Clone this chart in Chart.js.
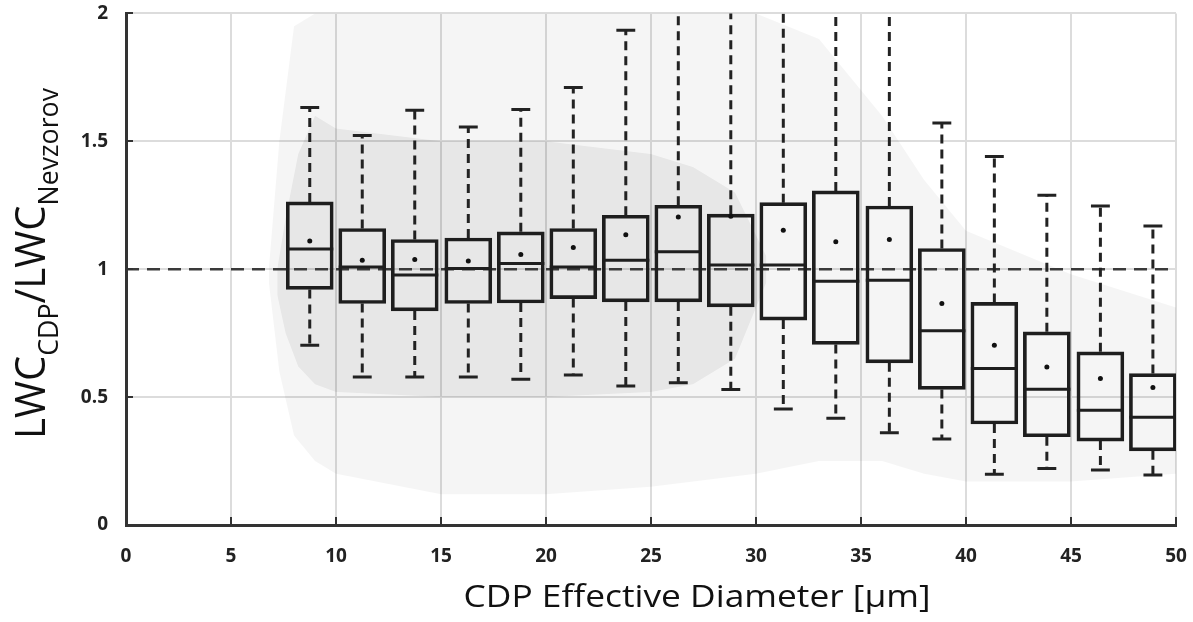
<!DOCTYPE html>
<html>
<head>
<meta charset="utf-8">
<script src="https://cdn.jsdelivr.net/npm/chart.js@4/dist/chart.umd.min.js"></script>
<style>
body { margin: 0; background: #fff; }
#wrap { width: 1193px; height: 622px; }
</style>
</head>
<body>
<div id="wrap"><canvas id="chart" width="1193" height="622"></canvas></div>
<script>

// box plot statistics per diameter bin
var centers = [8.75, 11.25, 13.75, 16.3, 18.8, 21.3, 23.8, 26.3, 28.8, 31.3, 33.8, 36.35, 38.85, 41.35, 43.85, 46.4, 48.9];
var q3 = [1.263, 1.159, 1.116, 1.122, 1.146, 1.159, 1.211, 1.25, 1.215, 1.26, 1.306, 1.247, 1.081, 0.870, 0.755, 0.677, 0.592];
var medians = [1.079, 1.009, 0.977, 1.003, 1.022, 1.009, 1.035, 1.068, 1.016, 1.016, 0.953, 0.957, 0.759, 0.612, 0.531, 0.449, 0.421];
var q1 = [0.921, 0.866, 0.837, 0.866, 0.868, 0.885, 0.872, 0.872, 0.853, 0.801, 0.706, 0.634, 0.530, 0.395, 0.345, 0.328, 0.290];
var means = [1.11, 1.035, 1.038, 1.032, 1.057, 1.085, 1.135, 1.204, 1.207, 1.152, 1.107, 1.116, 0.866, 0.703, 0.618, 0.573, 0.538];
var whiskerHigh = [1.632, 1.523, 1.621, 1.556, 1.624, 1.710, 1.934, 2.3, 2.3, 2.3, 2.3, 2.3, 1.572, 1.441, 1.289, 1.247, 1.169];
var whiskerLow = [0.703, 0.579, 0.579, 0.579, 0.570, 0.586, 0.543, 0.556, 0.530, 0.453, 0.417, 0.361, 0.336, 0.198, 0.221, 0.215, 0.195];

// outline of the grey point cloud behind the boxes
var cloudX = [6.8, 7.3, 8, 9, 10, 15, 20, 25, 30, 33, 36, 38, 40, 45, 50];
var cloudHigh = [1.0, 1.5, 1.95, 2.0, 2.0, 2.0, 2.0, 2.0, 2.0, 1.9, 1.6, 1.35, 1.15, 0.98, 0.85];
var cloudLow = [0.95, 0.6, 0.35, 0.25, 0.2, 0.12, 0.12, 0.15, 0.2, 0.25, 0.25, 0.2, 0.17, 0.17, 0.2];
var coreX = [7.2, 7.6, 8.2, 9, 10, 15, 20, 25, 27, 29, 30.5];
var coreHigh = [1.0, 1.2, 1.45, 1.6, 1.55, 1.5, 1.5, 1.45, 1.4, 1.3, 1.05];
var coreLow = [0.9, 0.75, 0.62, 0.55, 0.52, 0.5, 0.5, 0.52, 0.55, 0.65, 0.95];

var refLine = 1;
var xTickValues = [0, 5, 10, 15, 20, 25, 30, 35, 40, 45, 50];
var yTickValues = [0, 0.5, 1, 1.5, 2];
var yTickLabels = ['0', '0.5', '1', '1.5', '2'];
var xTitle = 'CDP Effective Diameter [μm]';
var yTitleParts = [['LWC', false], ['CDP', true], ['/LWC', false], ['Nevzorov', true]];

var boxHalf = 1.12;
var capHalf = 0.45;

function pts(xs, ys) {
	var out = [];
	for (var i = 0; i < xs.length; i++) out.push({x: xs[i], y: ys[i]});
	return out;
}

var boxes = [], whiskers = [], caps = [], medLines = [], meanPts = [];
for (var i = 0; i < centers.length; i++) {
	var c = centers[i];
	boxes.push({x: c, y: [q1[i], q3[i]]});
	whiskers.push({x: c, y: q3[i]}, {x: c, y: whiskerHigh[i]}, {x: c, y: null});
	whiskers.push({x: c, y: q1[i]}, {x: c, y: whiskerLow[i]}, {x: c, y: null});
	caps.push({x: c - capHalf, y: whiskerHigh[i]}, {x: c + capHalf, y: whiskerHigh[i]}, {x: c, y: null});
	caps.push({x: c - capHalf, y: whiskerLow[i]}, {x: c + capHalf, y: whiskerLow[i]}, {x: c, y: null});
	medLines.push({x: c - boxHalf, y: medians[i]}, {x: c + boxHalf, y: medians[i]}, {x: c, y: null});
	meanPts.push({x: c, y: means[i]});
}

var lineBase = {type: 'line', pointRadius: 0, tension: 0, spanGaps: false, borderCapStyle: 'butt'};

var innerTicks = {
	id: 'innerTicks',
	afterDatasetsDraw: function(chart) {
		var ctx = chart.ctx, xs = chart.scales.x, ys = chart.scales.y, a = chart.chartArea;
		ctx.save();
		ctx.strokeStyle = '#333';
		ctx.lineWidth = 2;
		ctx.beginPath();
		xTickValues.forEach(function(v) {
			var p = Math.round(xs.getPixelForValue(v));
			ctx.moveTo(p, a.bottom);
			ctx.lineTo(p, a.bottom - 8);
		});
		yTickValues.forEach(function(v) {
			var p = Math.round(ys.getPixelForValue(v));
			ctx.moveTo(a.left, p);
			ctx.lineTo(a.left + 7, p);
		});
		ctx.stroke();
		ctx.restore();
	}
};

// axis titles: the y one needs subscripts, the x one sits right of centre
var titles = {
	id: 'titles',
	afterDraw: function(chart) {
		var ctx = chart.ctx;
		var big = '42px "Open Sans"', small = '28px "Open Sans"';
		ctx.save();
		var total = 0;
		yTitleParts.forEach(function(p) {
			ctx.font = p[1] ? small : big;
			total += ctx.measureText(p[0]).width;
		});
		var k = 351 / total;
		ctx.translate(45, 439);
		ctx.rotate(-Math.PI / 2);
		ctx.scale(k, 1);
		ctx.fillStyle = '#111';
		ctx.textBaseline = 'alphabetic';
		var x = 0;
		yTitleParts.forEach(function(p) {
			ctx.font = p[1] ? small : big;
			ctx.fillText(p[0], x, p[1] ? 13 : 0);
			x += ctx.measureText(p[0]).width;
		});
		ctx.restore();

		ctx.save();
		ctx.font = '31px "Open Sans"';
		var w = ctx.measureText(xTitle).width;
		ctx.translate(697, 607);
		ctx.scale(467 / w, 1);
		ctx.fillStyle = '#111';
		ctx.textAlign = 'center';
		ctx.textBaseline = 'alphabetic';
		ctx.fillText(xTitle, 0, 0);
		ctx.restore();
	}
};

var ctx = document.getElementById('chart');
var chart = new Chart(ctx, {
	type: 'bar',
	data: {
		datasets: [
			Object.assign({}, lineBase, {data: pts(cloudX, cloudHigh), borderWidth: 0, fill: '+1', backgroundColor: 'rgba(0,0,0,0.04)', order: 20}),
			Object.assign({}, lineBase, {data: pts(cloudX, cloudLow), borderWidth: 0, fill: false, order: 19}),
			Object.assign({}, lineBase, {data: pts(coreX, coreHigh), borderWidth: 0, fill: '+1', backgroundColor: 'rgba(0,0,0,0.06)', order: 18}),
			Object.assign({}, lineBase, {data: pts(coreX, coreLow), borderWidth: 0, fill: false, order: 17}),
			Object.assign({}, lineBase, {data: [{x: 0, y: refLine}, {x: 50, y: refLine}], borderColor: '#3a3a3a', borderWidth: 2.5, borderDash: [13, 8], order: 9}),
			Object.assign({}, lineBase, {data: whiskers, borderColor: '#222', borderWidth: 3, borderDash: [9, 6], order: 6}),
			Object.assign({}, lineBase, {data: caps, borderColor: '#222', borderWidth: 3, order: 5}),
			{type: 'bar', data: boxes, barThickness: 47, borderColor: '#1e1e1e', borderWidth: 3, borderSkipped: false, backgroundColor: 'rgba(0,0,0,0)', order: 4},
			Object.assign({}, lineBase, {data: medLines, borderColor: '#1e1e1e', borderWidth: 3, order: 3}),
			{type: 'scatter', data: meanPts, pointRadius: 2.5, pointBackgroundColor: '#111', pointBorderWidth: 0, order: 1}
		]
	},
	options: {
		responsive: false,
		animation: false,
		layout: {padding: {left: 0, right: 17, top: 13, bottom: 0}},
		plugins: {legend: {display: false}, tooltip: {enabled: false}},
		scales: {
			x: {
				type: 'linear', min: 0, max: 50, offset: false,
				afterBuildTicks: function(s) { s.ticks = xTickValues.map(function(v) { return {value: v}; }); },
				afterFit: function(s) { s.height = 97; },
				grid: {color: '#dcdcdc', lineWidth: 2, drawTicks: true, tickLength: 18, tickColor: 'rgba(0,0,0,0)', offset: false},
				border: {color: '#333', width: 3},
				ticks: {padding: 2, color: '#222', font: {family: '"Open Sans"', weight: 'bold', size: 19}, maxRotation: 0},
				title: {display: false}
			},
			y: {
				min: 0, max: 2,
				afterBuildTicks: function(s) { s.ticks = yTickValues.map(function(v) { return {value: v}; }); },
				afterFit: function(s) { s.width = 126; },
				grid: {color: '#dcdcdc', lineWidth: 2, drawTicks: true, tickLength: 16, tickColor: 'rgba(0,0,0,0)'},
				border: {color: '#333', width: 3},
				ticks: {padding: 2, color: '#222', font: {family: '"Open Sans"', weight: 'bold', size: 19},
					callback: function(v) { return yTickLabels[yTickValues.indexOf(v)]; }}
			}
		}
	},
	plugins: [innerTicks, titles]
});

</script>
</body>
</html>
